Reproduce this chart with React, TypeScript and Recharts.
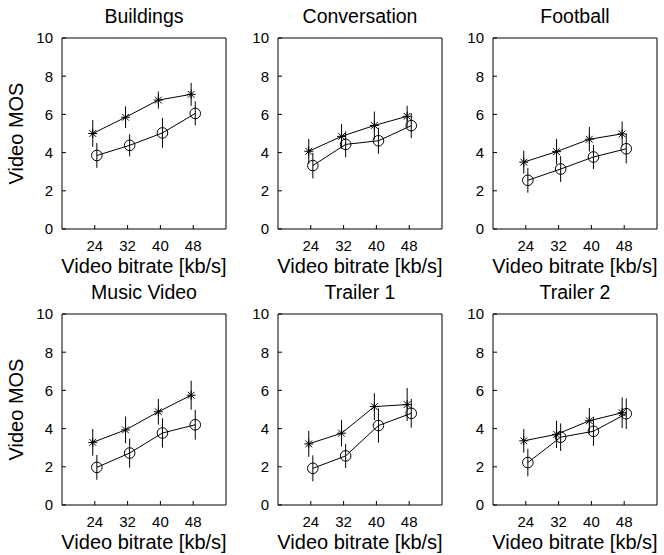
import React from 'react';
import { ComposedChart, Line, XAxis, YAxis, ErrorBar } from 'recharts';

const bitrates = [24, 32, 40, 48];
const xTicks = [24, 32, 40, 48];
const yTicks = [0, 2, 4, 6, 8, 10];

// * series (upper) and o series (lower), MOS with +/- error
const buildingsStar = [5.0, 5.85, 6.75, 7.05];
const buildingsStarErr = [0.7, 0.57, 0.45, 0.6];
const buildingsCircle = [3.85, 4.38, 5.03, 6.05];
const buildingsCircleErr = [0.65, 0.58, 0.78, 0.63];

const conversationStar = [4.07, 4.85, 5.42, 5.9];
const conversationStarErr = [0.65, 0.65, 0.73, 0.55];
const conversationCircle = [3.32, 4.43, 4.62, 5.41];
const conversationCircleErr = [0.67, 0.68, 0.68, 0.65];

const footballStar = [3.5, 4.05, 4.7, 4.98];
const footballStarErr = [0.6, 0.67, 0.65, 0.65];
const footballCircle = [2.55, 3.14, 3.77, 4.2];
const footballCircleErr = [0.65, 0.68, 0.63, 0.77];

const musicStar = [3.28, 3.93, 4.88, 5.75];
const musicStarErr = [0.7, 0.7, 0.67, 0.76];
const musicCircle = [1.97, 2.72, 3.77, 4.2];
const musicCircleErr = [0.65, 0.76, 0.77, 0.78];

const trailer1Star = [3.2, 3.76, 5.15, 5.26];
const trailer1StarErr = [0.68, 0.7, 0.7, 0.86];
const trailer1Circle = [1.92, 2.57, 4.16, 4.8];
const trailer1CircleErr = [0.68, 0.63, 0.9, 0.75];

const trailer2Star = [3.36, 3.7, 4.41, 4.83];
const trailer2StarErr = [0.62, 0.72, 0.67, 0.8];
const trailer2Circle = [2.22, 3.55, 3.86, 4.78];
const trailer2CircleErr = [0.72, 0.72, 0.76, 0.8];

const FONT = '"Liberation Sans", Arial, Helvetica, sans-serif';

const panels = [
  { title: 'Buildings', star: buildingsStar, starErr: buildingsStarErr, circle: buildingsCircle, circleErr: buildingsCircleErr },
  { title: 'Conversation', star: conversationStar, starErr: conversationStarErr, circle: conversationCircle, circleErr: conversationCircleErr },
  { title: 'Football', star: footballStar, starErr: footballStarErr, circle: footballCircle, circleErr: footballCircleErr },
  { title: 'Music Video', star: musicStar, starErr: musicStarErr, circle: musicCircle, circleErr: musicCircleErr },
  { title: 'Trailer 1', star: trailer1Star, starErr: trailer1StarErr, circle: trailer1Circle, circleErr: trailer1CircleErr },
  { title: 'Trailer 2', star: trailer2Star, starErr: trailer2StarErr, circle: trailer2Circle, circleErr: trailer2CircleErr },
];

const colLeft = [0, 216, 431];
const rowTop = [0, 276];

const StarDot = (props: any) => {
  const { cx, cy, index } = props;
  if (cx == null || cy == null) return <g key={`s-${index}`} />;
  const r = 4.5;
  const d = r * 0.75;
  return (
    <g key={`s-${index}`} stroke="#000" strokeWidth={1}>
      <line x1={cx - r} y1={cy} x2={cx + r} y2={cy} />
      <line x1={cx} y1={cy - r} x2={cx} y2={cy + r} />
      <line x1={cx - d} y1={cy - d} x2={cx + d} y2={cy + d} />
      <line x1={cx - d} y1={cy + d} x2={cx + d} y2={cy - d} />
    </g>
  );
};

const CircleDot = (props: any) => {
  const { cx, cy, index } = props;
  if (cx == null || cy == null) return <g key={`c-${index}`} />;
  return <circle key={`c-${index}`} cx={cx} cy={cy} r={5.3} fill="none" stroke="#000" strokeWidth={1} />;
};

const Panel = ({ p, left, top, showYLabel }: any) => {
  const starData = bitrates.map((b, i) => ({ x: b - 0.5, y: p.star[i], err: p.starErr[i] }));
  const circleData = bitrates.map((b, i) => ({ x: b + 0.5, y: p.circle[i], err: p.circleErr[i] }));
  const tickStyle = { fill: '#000', fontSize: 15, fontFamily: FONT };
  return (
    <div style={{ position: 'absolute', left, top, width: 232, height: 285 }}>
      <div
        style={{
          position: 'absolute', left: 62, width: 164, top: 5, textAlign: 'center',
          fontSize: 19.5, fontFamily: FONT, color: '#000', lineHeight: '22px',
        }}
      >
        {p.title}
      </div>
      <ComposedChart width={232} height={285} margin={{ top: 37, right: 5, bottom: 9, left: 0 }}>
        <XAxis
          xAxisId="b" type="number" dataKey="x" domain={[16, 56]} ticks={xTicks}
          height={47} tickSize={-4} tickMargin={15} stroke="#000" tick={tickStyle}
          label={{ value: 'Video bitrate [kb/s]', position: 'insideBottom', offset: 3, fill: '#000', fontSize: 20, fontFamily: FONT }}
        />
        <XAxis xAxisId="t" orientation="top" type="number" dataKey="x" domain={[16, 56]} ticks={xTicks} height={1} tickSize={-4} tick={false} stroke="#000" />
        <YAxis
          yAxisId="l" type="number" domain={[0, 10]} ticks={yTicks} width={62}
          tickSize={-4} tickMargin={13} stroke="#000" tick={tickStyle}
          label={showYLabel ? { value: 'Video MOS', angle: -90, position: 'insideLeft', offset: 16, fill: '#000', fontSize: 20, fontFamily: FONT, style: { textAnchor: 'middle' } } : undefined}
        />
        <YAxis yAxisId="r" orientation="right" type="number" domain={[0, 10]} ticks={yTicks} width={1} tickSize={-4} tick={false} stroke="#000" />
        {/* invisible series so the top/right frame axes get drawn */}
        <Line xAxisId="t" yAxisId="r" data={starData} dataKey="y" stroke="none" dot={false} activeDot={false} isAnimationActive={false} />
        <Line
          xAxisId="b" yAxisId="l" data={starData} dataKey="y" type="linear" stroke="#000" strokeWidth={1}
          dot={(d: any) => <StarDot {...d} key={`s-${d.index}`} />} activeDot={false} isAnimationActive={false}
        >
          <ErrorBar dataKey="err" width={0} stroke="#000" strokeWidth={1} direction="y" />
        </Line>
        <Line
          xAxisId="b" yAxisId="l" data={circleData} dataKey="y" type="linear" stroke="#000" strokeWidth={1}
          dot={(d: any) => <CircleDot {...d} key={`c-${d.index}`} />} activeDot={false} isAnimationActive={false}
        >
          <ErrorBar dataKey="err" width={0} stroke="#000" strokeWidth={1} direction="y" />
        </Line>
      </ComposedChart>
    </div>
  );
}

export default function App() {
  return (
    <div style={{ position: 'absolute', left: 0, top: 0, width: 664, height: 555, background: '#fff', overflow: 'hidden' }}>
      {panels.map((p, i) => (
        <Panel key={p.title} p={p} left={colLeft[i % 3]} top={rowTop[Math.floor(i / 3)]} showYLabel={i % 3 === 0} />
      ))}
    </div>
  );
}
